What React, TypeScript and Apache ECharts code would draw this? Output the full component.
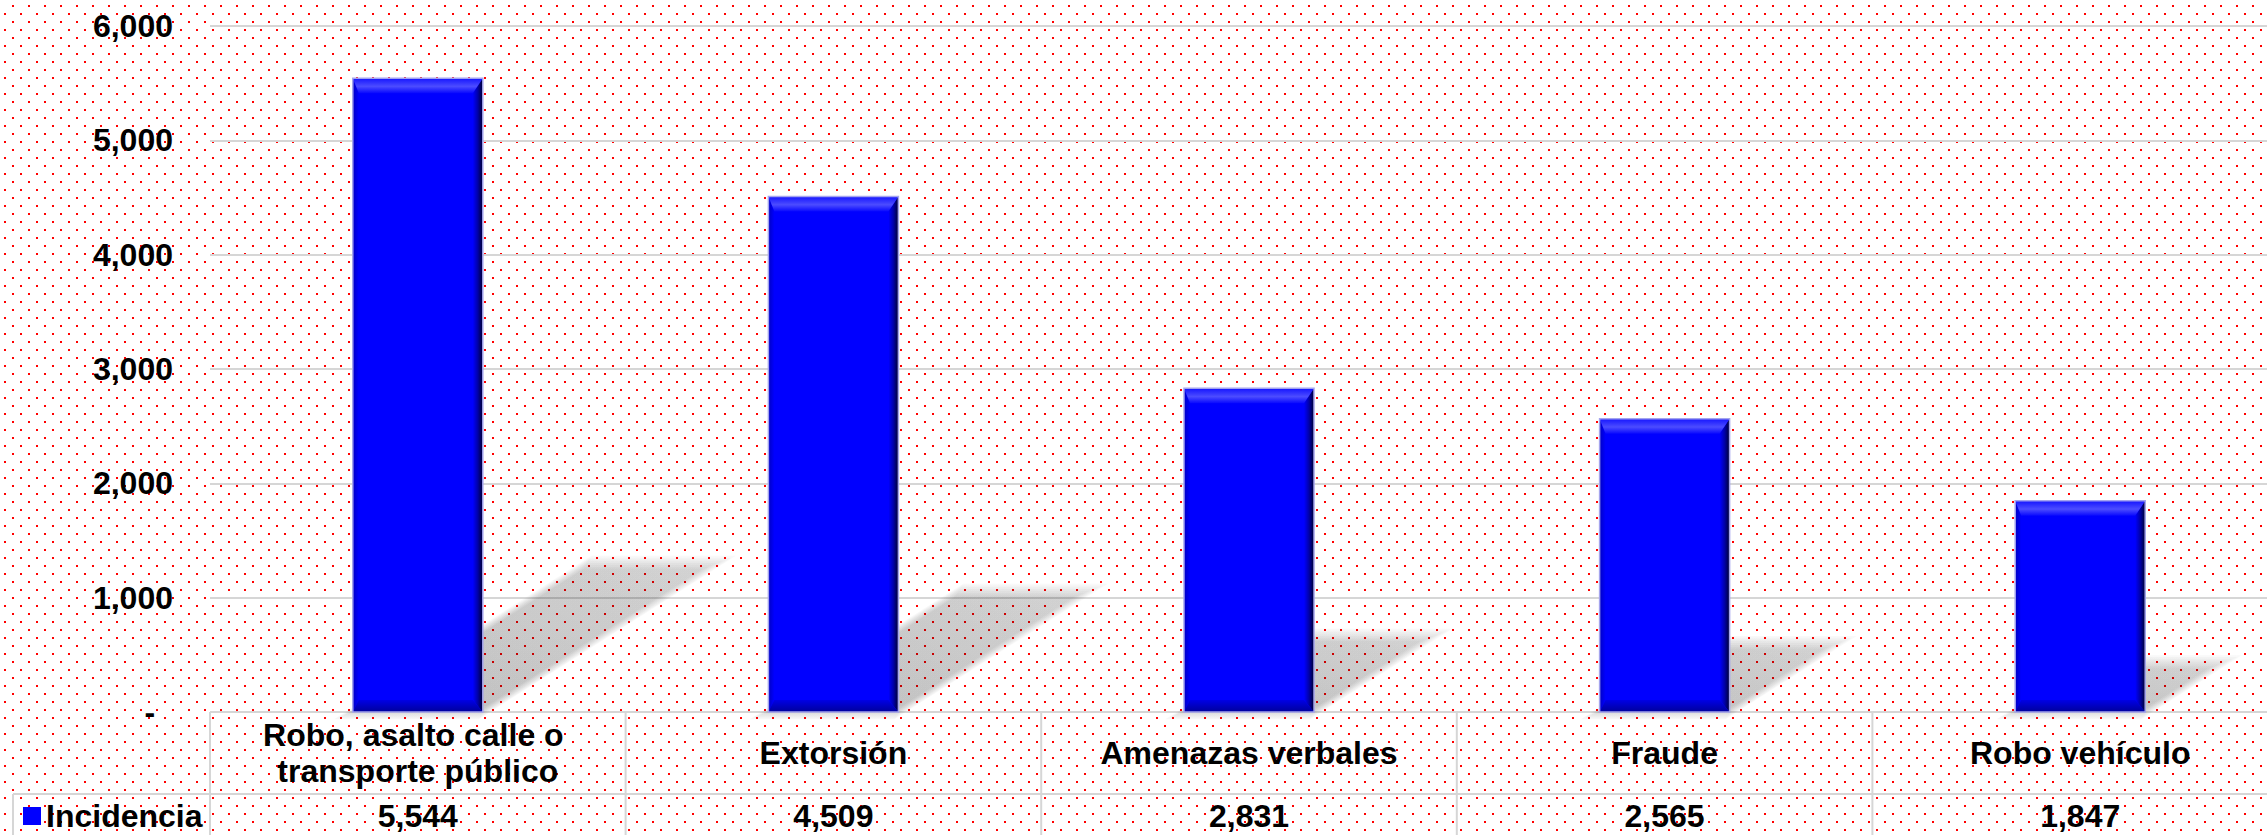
import React, { useEffect, useRef } from "react";
import * as echarts from "echarts";

const categories = [
  "Robo, asalto calle o transporte público",
  "Extorsión",
  "Amenazas verbales",
  "Fraude",
  "Robo vehículo",
];
const incidencia = [5544, 4509, 2831, 2565, 1847];
const seriesName = "Incidencia";
const yMin = 0;
const yMax = 6000;
const yInterval = 1000;

const FONT = "'Liberation Sans', Arial, Helvetica, sans-serif";
const BAR_W = 130;
const LINE = "#d6d6d6";
const CHART_W = 2288;
const VIEW_W = 2267;
const VIEW_H = 835;

const fmt = (v: number) => v.toLocaleString("en-US");

const DOTS =
  "url(\"data:image/svg+xml;utf8,<svg xmlns='http://www.w3.org/2000/svg' width='16' height='16'><rect x='12' y='5' width='2' height='2' fill='%23ff0000'/><rect x='4' y='13' width='2' height='2' fill='%23ff0000'/></svg>\")";

export default function App() {
  const ref = useRef<HTMLDivElement>(null);

  useEffect(() => {
    const chart = echarts.init(ref.current!, null, { renderer: "svg" });
    const textBase = {
      fontFamily: FONT,
      fontSize: 32,
      fontWeight: "bold" as const,
      color: "#000",
    };
    const pairs = incidencia.map((v, i) => [i, v]);
    const G = echarts.graphic.LinearGradient;

    const option: any = {
      animation: false,
      backgroundColor: "transparent",
      grid: { left: 210, right: 0, top: 26, bottom: 123 },
      legend: {
        data: [seriesName],
        left: 23,
        top: 800,
        padding: 0,
        itemWidth: 18,
        itemHeight: 18,
        icon: "rect",
        textStyle: { ...textBase },
        selectedMode: false,
      },
      xAxis: [
        {
          type: "category",
          data: categories,
          axisLine: { show: false },
          axisTick: { show: false },
          axisLabel: {
            ...textBase,
            interval: 0,
            margin: 41,
            verticalAlign: "middle",
            width: 380,
            overflow: "break",
            lineHeight: 36,
          },
        },
        {
          type: "category",
          data: incidencia.map(fmt),
          position: "bottom",
          axisLine: { show: false },
          axisTick: { show: false },
          axisLabel: {
            ...textBase,
            interval: 0,
            margin: 104,
            verticalAlign: "middle",
          },
        },
      ],
      yAxis: {
        type: "value",
        min: yMin,
        max: yMax,
        interval: yInterval,
        axisLine: { show: false },
        axisTick: { show: false },
        splitLine: { lineStyle: { color: LINE, width: 2 } },
        axisLabel: {
          ...textBase,
          margin: 37,
          formatter: (v: number) => (v === 0 ? "-\u00a0\u00a0" : fmt(v)),
        },
      },
      graphic: [
        {
          type: "line",
          shape: { x1: 13, y1: 794, x2: CHART_W, y2: 794 },
          style: { stroke: LINE, lineWidth: 2 },
          z: 10,
        },
        {
          type: "line",
          shape: { x1: 13, y1: 794, x2: 13, y2: 900 },
          style: { stroke: LINE, lineWidth: 2 },
          z: 10,
        },
      ],
      series: [
        {
          type: "custom",
          name: "shadow",
          data: pairs,
          z: 2,
          clip: false,
          silent: true,
          encode: { x: 0, y: 1 },
          renderItem: (params: any, api: any) => {
            const idx = api.value(0);
            const top = api.coord([idx, api.value(1)]);
            const base = api.coord([idx, 0]);
            const h = base[1] - top[1];
            const L = top[0] - BAR_W / 2;
            const W = BAR_W;
            const B = base[1];
            const dx = 0.37 * h;
            const dy = 0.235 * h;
            const n = 8;
            const step = 1.8;
            const pt = (u: number, v: number) => [L + u * W + v * dx, B - v * dy];
            const layers: any[] = [];
            for (let k = 0; k < n; k++) {
              const d = (k - n / 2) * step;
              const a = d / W;
              const b = d / dy;
              const u0 = a, u1 = 1 - a, v0 = b, v1 = 1 - b;
              if (u1 <= u0 || v1 <= v0) continue;
              layers.push({
                type: "polygon",
                shape: { points: [pt(u0, v0), pt(u1, v0), pt(u1, v1), pt(u0, v1)] },
                style: {
                  fill: new G(0, 1, 1, 0, [
                    { offset: 0, color: "rgba(0,0,0,0.036)" },
                    { offset: 1, color: "rgba(0,0,0,0.024)" },
                  ]),
                },
              });
            }
            return { type: "group", children: layers };
          },
        },
        {
          type: "bar",
          name: seriesName,
          data: incidencia,
          barWidth: BAR_W,
          z: 3,
          itemStyle: { color: "#0000ff" },
        },
        {
          type: "custom",
          name: "bevel",
          data: pairs,
          z: 4,
          clip: false,
          silent: true,
          encode: { x: 0, y: 1 },
          renderItem: (params: any, api: any) => {
            const idx = api.value(0);
            const top = api.coord([idx, api.value(1)]);
            const base = api.coord([idx, 0]);
            const L = top[0] - BAR_W / 2;
            const R = top[0] + BAR_W / 2;
            const T = top[1];
            const B = base[1];
            const bt = 15;
            const bb = 12;
            const br = 10;
            const bl = 6;
            return {
              type: "group",
              children: [
                {
                  type: "polygon",
                  shape: { points: [[L, T], [L, B], [L + bl, B - bb], [L + bl, T + bt]] },
                  style: {
                    fill: new G(0, 0, 1, 0, [
                      { offset: 0, color: "#0000c4" },
                      { offset: 1, color: "#0000ff" },
                    ]),
                  },
                },
                {
                  type: "polygon",
                  shape: { points: [[R, T], [R, B], [R - br, B - bb], [R - br, T + bt]] },
                  style: {
                    fill: new G(0, 0, 1, 0, [
                      { offset: 0, color: "#0000ff" },
                      { offset: 0.5, color: "#0000a8" },
                      { offset: 1, color: "#000030" },
                    ]),
                  },
                },
                {
                  type: "polygon",
                  shape: { points: [[L, T], [R, T], [R - br, T + bt], [L + bl, T + bt]] },
                  style: {
                    fill: new G(0, 0, 0, 1, [
                      { offset: 0, color: "#1414ff" },
                      { offset: 0.55, color: "#4c4cff" },
                      { offset: 1, color: "#0808ff" },
                    ]),
                  },
                },
                {
                  type: "polygon",
                  shape: { points: [[L, B], [R, B], [R - br, B - bb], [L + bl, B - bb]] },
                  style: {
                    fill: new G(0, 0, 0, 1, [
                      { offset: 0, color: "#0000e6" },
                      { offset: 1, color: "#00009a" },
                    ]),
                  },
                },
                {
                  type: "rect",
                  shape: { x: L, y: T, width: R - L, height: B - T },
                  style: { fill: "none", stroke: "#a4a4ee", lineWidth: 1.5 },
                },
              ],
            };
          },
        },
        {
          type: "custom",
          name: "table",
          data: pairs,
          z: 10,
          clip: false,
          silent: true,
          encode: { x: 0, y: 1 },
          renderItem: (params: any, api: any) => {
            const idx = api.value(0);
            const base = api.coord([idx, 0]);
            const band = api.size([1, 0])[0];
            const lines: any[] = [
              {
                type: "line",
                shape: { x1: base[0] - band / 2, y1: base[1], x2: base[0] - band / 2, y2: base[1] + 200 },
                style: { stroke: LINE, lineWidth: 2 },
              },
            ];
            if (idx === categories.length - 1) {
              lines.push({
                type: "line",
                shape: { x1: base[0] + band / 2, y1: base[1], x2: base[0] + band / 2, y2: base[1] + 200 },
                style: { stroke: LINE, lineWidth: 2 },
              });
            }
            return { type: "group", children: lines };
          },
        },
      ],
    };

    chart.setOption(option);
    return () => chart.dispose();
  }, []);

  return (
    <div
      style={{
        position: "fixed",
        left: 0,
        top: 0,
        width: VIEW_W,
        height: VIEW_H,
        overflow: "hidden",
        backgroundColor: "#ffffff",
        backgroundImage: DOTS,
        backgroundRepeat: "repeat",
      }}
    >
      <div ref={ref} style={{ width: CHART_W, height: VIEW_H }} />
    </div>
  );
}
